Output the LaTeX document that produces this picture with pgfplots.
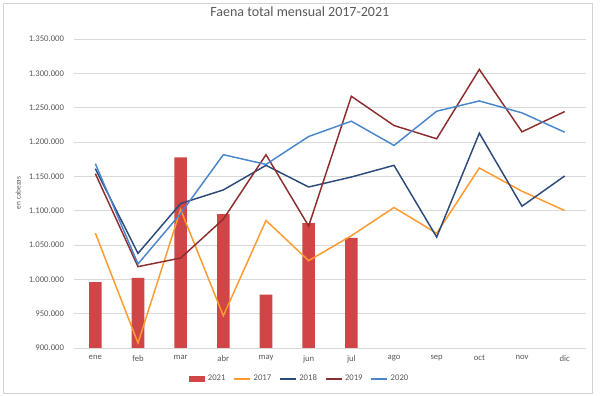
\documentclass[border=0pt]{standalone}
\usepackage{pgfplots}
\pgfplotsset{compat=1.18}
\usepackage{fontspec}
\setmainfont{Carlito}
\definecolor{bar21}{HTML}{D04545}
\definecolor{c17}{HTML}{FF9A2E}
\definecolor{c18}{HTML}{2B4A7A}
\definecolor{c19}{HTML}{8E2D2D}
\definecolor{c20}{HTML}{4A86CB}
\definecolor{gridc}{HTML}{D9D9D9}
\definecolor{txt}{HTML}{595959}
\begin{document}
\begin{tikzpicture}
\useasboundingbox (0,0) rectangle (450pt,297pt);
\draw[gray!35, line width=0.6pt] (2.25pt,2.25pt) rectangle (444pt,294.75pt);
\begin{axis}[
  at={(55.5pt,36pt)}, anchor=south west,
  scale only axis, width=384pt, height=231.75pt,
  xmin=-0.5, xmax=11.5, ymin=900000, ymax=1350000,
  xtick={0,...,11},
  xticklabels={ene,feb,mar,abr,may,jun,jul,ago,sep,oct,nov,dic},
  ytick={900000,950000,...,1350000},
  scaled y ticks=false,
  /pgf/number format/.cd, fixed, precision=0, 1000 sep={.}, assume math mode=true,
  /pgfplots/.cd,
  ymajorgrids, grid style={gridc, line width=0.6pt},
  axis x line*=bottom, axis y line*=left,
  x axis line style={gridc, line width=0.6pt, -},
  y axis line style={draw=none},
  major tick length=0pt,
  tick label style={font=\fontsize{6.5}{7}\selectfont, text=txt},
  yticklabel style={xshift=-4pt},
  xticklabel style={yshift=-2pt},
  title={Faena total mensual 2017-2021},
  title style={font=\fontsize{10.5}{12}\selectfont, text=txt, at={(axis description cs:0.441,1.062)}, anchor=center},
  ylabel={en cabezas},
  ylabel style={font=\fontsize{5.5}{6}\selectfont, text=txt, at={(axis description cs:-0.109,0.502)}, anchor=center},
  legend columns=5,
  legend style={at={(axis description cs:0.441,-0.100)}, anchor=center, draw=none, fill=none,
    font=\fontsize{6.5}{7}\selectfont, text=txt,
    /tikz/every even column/.append style={column sep=4pt}},
  legend image code/.code={\draw[#1, line width=1.1pt] (0pt,0pt) -- (12pt,0pt);},
]
\addplot[ybar, bar width=9.4pt, fill=bar21, draw=none,
  legend image code/.code={\fill[bar21] (0pt,-2pt) rectangle (12.5pt,2pt);}]
  coordinates {(0,996000) (1,1002000) (2,1177600) (3,1094900) (4,977900) (5,1081800) (6,1060500)};
\addlegendentry{2021}
\addplot[c17, line width=1.1pt] coordinates {(0,1067300) (1,907300) (2,1101700) (3,946900) (4,1085700) (5,1027200) (6,1063500) (7,1104600) (8,1067000) (9,1162100) (10,1128300) (11,1100200)};
\addlegendentry{2017}
\addplot[c18, line width=1.1pt] coordinates {(0,1161100) (1,1037800) (2,1110400) (3,1130200) (4,1166000) (5,1134500) (6,1149000) (7,1166000) (8,1061500) (9,1212900) (10,1106500) (11,1150500)};
\addlegendentry{2018}
\addplot[c19, line width=1.1pt] coordinates {(0,1153900) (1,1018500) (2,1031000) (3,1087600) (4,1181500) (5,1077500) (6,1266600) (7,1224000) (8,1204700) (9,1305700) (10,1214800) (11,1244300)};
\addlegendentry{2019}
\addplot[c20, line width=1.1pt] coordinates {(0,1168400) (1,1022400) (2,1095900) (3,1181500) (4,1167400) (5,1208000) (6,1230300) (7,1195000) (8,1244800) (9,1259800) (10,1242400) (11,1214300)};
\addlegendentry{2020}
\end{axis}
\end{tikzpicture}
\end{document}
